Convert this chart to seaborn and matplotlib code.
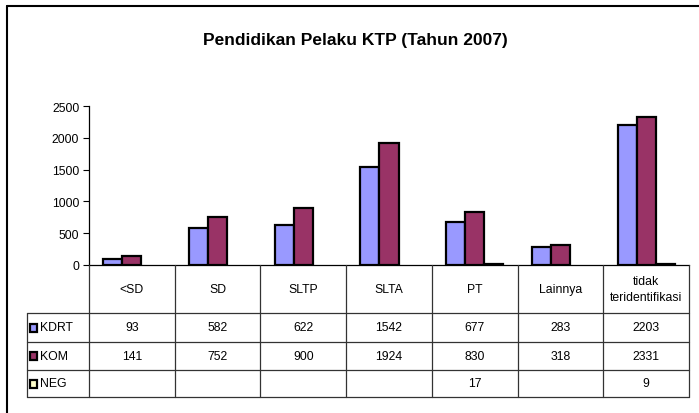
import numpy as np
import pandas as pd
import seaborn as sns
import matplotlib.pyplot as plt
from matplotlib.patches import Rectangle
from matplotlib.lines import Line2D

sns.set_theme(style="white")
plt.rcParams['font.family'] = ['Liberation Sans', 'DejaVu Sans']
plt.rcParams['text.color'] = 'black'

# data
categories = ["<SD", "SD", "SLTP", "SLTA", "PT", "Lainnya", "tidak\nteridentifikasi"]
series = ["KDRT", "KOM", "NEG"]
kdrt = [93, 582, 622, 1542, 677, 283, 2203]
kom = [141, 752, 900, 1924, 830, 318, 2331]
neg = [None, None, None, None, 17, None, 9]
colors = ["#9999FF", "#993366", "#FFFFCC"]
yticks = [0, 500, 1000, 1500, 2000, 2500]

values = {"KDRT": kdrt, "KOM": kom, "NEG": neg}
rows = []
for s in series:
    for c, v in zip(categories, values[s]):
        rows.append({"cat": c, "series": s, "val": np.nan if v is None else v})
df = pd.DataFrame(rows)

W, H = 699, 414
fig = plt.figure(figsize=(W / 100, H / 100), dpi=100)

# plot area (pixels): x 89..689, y 107..266
ax = fig.add_axes([89 / W, (H - 266) / H, 600 / W, 159 / H])
sns.barplot(data=df, x="cat", y="val", hue="series", hue_order=series,
            order=categories, palette=colors, saturation=1, edgecolor="black",
            linewidth=1.6, width=0.667, errorbar=None, legend=False, ax=ax, zorder=3)
ax.set_xlim(-0.5, len(categories) - 0.5)
ax.set_ylim(0, 2500)
ax.set_yticks(yticks)
ax.set_xticks([])
ax.set_xlabel("")
ax.set_ylabel("")
ax.tick_params(axis="y", left=True, length=4, width=0.8, color="black",
               labelsize=8.8, pad=3, labelcolor="black")
for side in ["top", "right"]:
    ax.spines[side].set_visible(False)
for side in ["left", "bottom"]:
    ax.spines[side].set_color("black")
    ax.spines[side].set_linewidth(0.9)
ax.set_facecolor("none")

# data table below the plot (y in pixels from plot bottom)
tax = fig.add_axes([89 / W, (H - 398) / H, 600 / W, 132 / H])
tax.set_xlim(-0.5, len(categories) - 0.5)
tax.set_ylim(132, 0)
tax.axis("off")
px = len(categories) / 600.0


def xpx(p):
    # pixel x (figure) -> table data x
    return -0.5 + (p - 89) * px


row_edges = [0, 48, 77, 105, 132]
lc = "#333333"
for k in range(len(categories) + 1):
    tax.plot([k - 0.5, k - 0.5], [0, 132], color=lc, lw=0.9, clip_on=False)
for yb in row_edges[1:]:
    tax.plot([xpx(27), len(categories) - 0.5], [yb, yb], color=lc, lw=0.9, clip_on=False)
tax.plot([xpx(27), xpx(27)], [48, 132], color=lc, lw=0.9, clip_on=False)

for i, c in enumerate(categories):
    tax.text(i, 24, c, ha="center", va="center", fontsize=8.8, linespacing=1.5)

for r, s in enumerate(series):
    yc = (row_edges[r + 1] + row_edges[r + 2]) / 2
    tax.add_patch(Rectangle((xpx(29.5), yc - 4), 8 * px, 8, facecolor=colors[r],
                            edgecolor="black", lw=1.6, clip_on=False))
    tax.text(xpx(40), yc, s, ha="left", va="center", fontsize=8.8)
    for i, v in enumerate(values[s]):
        if v is not None:
            tax.text(i, yc, str(v), ha="center", va="center", fontsize=8.8)

fig.text(355 / W, 1 - 40 / H, "Pendidikan Pelaku KTP (Tahun 2007)", ha="center",
         va="center", fontsize=12.5, fontweight="bold")

# chart frame (top and left edges visible)
fig.add_artist(Line2D([7 / W, 1], [1 - 7 / H, 1 - 7 / H], color="black", lw=1.5))
fig.add_artist(Line2D([7 / W, 7 / W], [0, 1 - 7 / H], color="black", lw=1.5))

fig.savefig("out.png", dpi=100)
